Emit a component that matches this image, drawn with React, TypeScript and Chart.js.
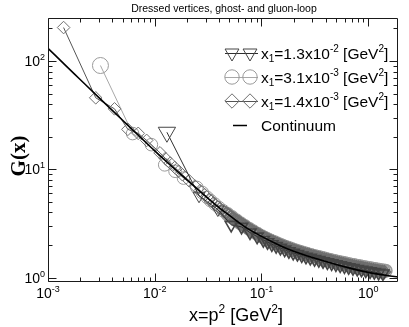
import React, { useEffect, useRef } from 'react';
import { Chart, registerables } from 'chart.js';
Chart.register(...registerables);

// ---------- data ----------
const continuumX = [0.001, 0.0015, 0.002, 0.003, 0.005, 0.007, 0.01, 0.015, 0.02, 0.03, 0.04, 0.05, 0.07, 0.1, 0.15, 0.2, 0.3, 0.5, 0.7, 1.0, 1.5, 1.9];
const continuumG = [131, 89, 67.6, 45.9, 28.4, 20.7, 14.8, 10.3, 8.0, 5.62, 4.43, 3.75, 2.94, 2.4, 1.97, 1.75, 1.53, 1.32, 1.21, 1.117, 1.045, 1.014];

// x1 = 1.3e-2 GeV^2 (triangles)
const triX = [0.013, 0.026, 0.039, 0.052, 0.065, 0.078, 0.091, 0.104, 0.114, 0.125, 0.1371, 0.1503, 0.1648, 0.1807, 0.1982, 0.2173, 0.2382, 0.2612, 0.2864, 0.3141, 0.3443, 0.3776, 0.414, 0.4539, 0.4977, 0.5458, 0.5984, 0.6561, 0.7194, 0.7889, 0.865, 0.9484, 1.04, 1.14, 1.25, 1.371];
const triG = [22, 5.7, 4.25, 3.07, 2.94, 2.61, 2.39, 2.22, 2.12, 2.03, 1.95, 1.88, 1.81, 1.75, 1.69, 1.65, 1.6, 1.557, 1.519, 1.482, 1.448, 1.415, 1.383, 1.353, 1.324, 1.297, 1.271, 1.246, 1.224, 1.201, 1.181, 1.162, 1.143, 1.124, 1.105, 1.091];

// x1 = 3.1e-3 GeV^2 (circles)
const cirX = [0.0031, 0.0062, 0.0093, 0.0124, 0.0155, 0.0186, 0.0248, 0.0279, 0.031, 0.03334, 0.03656, 0.04009, 0.04395, 0.04819, 0.05284, 0.05794, 0.06353, 0.06966, 0.07638, 0.08375, 0.09183, 0.1007, 0.1054, 0.1104, 0.1156, 0.1211, 0.1268, 0.1327, 0.139, 0.1455, 0.1524, 0.1596, 0.1671, 0.175, 0.1832, 0.1919, 0.2009, 0.2104, 0.2203, 0.2307, 0.2415, 0.2529, 0.2649, 0.2773, 0.2904, 0.3041, 0.3184, 0.3334, 0.3491, 0.3656, 0.3828, 0.4009, 0.4198, 0.4395, 0.4603, 0.4819, 0.5047, 0.5284, 0.5534, 0.5794, 0.6067, 0.6353, 0.6653, 0.6966, 0.7295, 0.7638, 0.7998, 0.8375, 0.877, 0.9183, 0.9616, 1.007, 1.054, 1.104, 1.156, 1.211, 1.268, 1.327, 1.39, 1.455];
const cirG = [91, 21.4, 16.9, 11.0, 9.6, 8.3, 6.8, 6.1, 5.5, 5.14, 4.77, 4.42, 4.13, 3.85, 3.61, 3.38, 3.17, 2.99, 2.82, 2.67, 2.53, 2.4, 2.34, 2.29, 2.24, 2.19, 2.15, 2.11, 2.07, 2.03, 1.99, 1.95, 1.92, 1.89, 1.857, 1.83, 1.796, 1.77, 1.746, 1.72, 1.697, 1.67, 1.652, 1.63, 1.612, 1.59, 1.573, 1.555, 1.538, 1.52, 1.502, 1.485, 1.469, 1.453, 1.437, 1.422, 1.406, 1.392, 1.378, 1.364, 1.35, 1.337, 1.325, 1.313, 1.301, 1.289, 1.277, 1.267, 1.256, 1.246, 1.236, 1.226, 1.216, 1.206, 1.196, 1.186, 1.177, 1.169, 1.161, 1.154];

// x1 = 1.4e-3 GeV^2 (diamonds)
const diaX = [0.0014, 0.0028, 0.0042, 0.0056, 0.007, 0.0084, 0.0112, 0.0126, 0.014, 0.0154, 0.0168, 0.0182, 0.021, 0.0238, 0.0266, 0.0294, 0.03236, 0.03388, 0.03548, 0.03715, 0.0389, 0.04074, 0.04266, 0.04467, 0.04677, 0.04898, 0.05129, 0.0537, 0.05623, 0.05888, 0.06166, 0.06457, 0.06761, 0.07079, 0.07413, 0.07762, 0.08128, 0.08511, 0.08913, 0.09333, 0.09772, 0.1023, 0.1072, 0.1122, 0.1175, 0.123, 0.1288, 0.1349, 0.1413, 0.1479, 0.1549, 0.1622, 0.1698, 0.1778, 0.1862, 0.195, 0.2042, 0.2138, 0.2239, 0.2344, 0.2455, 0.257, 0.2692, 0.2818, 0.2951, 0.309, 0.3236, 0.3388, 0.3548, 0.3715, 0.389, 0.4074, 0.4266, 0.4467, 0.4677, 0.4898, 0.5129, 0.537, 0.5623, 0.5888, 0.6166, 0.6457, 0.6761, 0.7079, 0.7413, 0.7762, 0.8128, 0.8511, 0.8913, 0.9333, 0.9772, 1.023, 1.072, 1.122, 1.175, 1.23, 1.288, 1.349, 1.413];
const diaG = [204, 45.8, 36.2, 23.4, 21.5, 18.5, 14.2, 12.6, 11.4, 10.4, 9.6, 8.9, 7.85, 7.0, 6.35, 5.82, 5.27, 5.08, 4.89, 4.71, 4.53, 4.37, 4.22, 4.08, 3.94, 3.81, 3.68, 3.56, 3.45, 3.34, 3.24, 3.14, 3.05, 2.96, 2.87, 2.79, 2.71, 2.64, 2.57, 2.5, 2.44, 2.38, 2.32, 2.27, 2.22, 2.17, 2.13, 2.08, 2.04, 2.0, 1.96, 1.93, 1.9, 1.86, 1.83, 1.8, 1.77, 1.746, 1.72, 1.695, 1.67, 1.647, 1.63, 1.606, 1.58, 1.564, 1.545, 1.527, 1.51, 1.49, 1.47, 1.455, 1.44, 1.422, 1.405, 1.389, 1.374, 1.36, 1.345, 1.331, 1.317, 1.303, 1.291, 1.278, 1.266, 1.254, 1.242, 1.231, 1.221, 1.21, 1.199, 1.189, 1.179, 1.169, 1.16, 1.15, 1.142, 1.134, 1.127];

const xTickExponents = ['-3', '-2', '-1', '0'];
const yTickExponents = ['0', '1', '2'];
const legendLabels = [
  { pre: '=1.3x10', exp: '-2' },
  { pre: '=3.1x10', exp: '-3' },
  { pre: '=1.4x10', exp: '-3' },
];
const titleText = 'Dressed vertices, ghost- and gluon-loop';

const X_MIN = 0.001, X_MAX = 1.9, Y_MIN = 0.91, Y_MAX = 250;

const SANS = '"Liberation Sans", Arial, Helvetica, sans-serif';
const SERIF = '"Liberation Serif", "Times New Roman", serif';

const TRI_COLOR = '#454545';
const TRI_LINE = '#2e2e2e';
const CIR_COLOR = '#9a9a9a';
const CIR_LINE = '#a8a8a8';
const DIA_COLOR = '#6e6e6e';
const DIA_LINE = '#555555';

// markers crowd together into a solid band where x is large
const crowdedStroke = (c: any) => (c.raw && c.raw.x > 0.045 ? 1.6 : 1);

type Seg = { t: string; k?: 'sup' | 'sub' };

function drawRich(ctx: CanvasRenderingContext2D, segs: Seg[], x: number, y: number, size: number, align: 'left' | 'center' | 'right', font = SANS) {
  const small = Math.round(size * 0.66);
  const fontFor = (s: Seg) => `${s.k ? small : size}px ${font}`;
  let w = 0;
  for (const s of segs) { ctx.font = fontFor(s); w += ctx.measureText(s.t).width; }
  let cx = align === 'left' ? x : align === 'center' ? x - w / 2 : x - w;
  ctx.textAlign = 'left';
  ctx.textBaseline = 'alphabetic';
  for (const s of segs) {
    ctx.font = fontFor(s);
    const dy = s.k === 'sup' ? -size * 0.42 : s.k === 'sub' ? size * 0.22 : 0;
    ctx.fillText(s.t, cx, y + dy);
    cx += ctx.measureText(s.t).width;
  }
}

function drawPointShape(ctx: CanvasRenderingContext2D, st: string, x: number, y: number, r: number, rotDeg: number) {
  ctx.beginPath();
  if (st === 'circle') {
    ctx.arc(x, y, r, 0, Math.PI * 2);
  } else if (st === 'triangle') {
    let rad = (rotDeg * Math.PI) / 180;
    ctx.moveTo(x + Math.sin(rad) * r, y - Math.cos(rad) * r);
    rad += (2 * Math.PI) / 3;
    ctx.lineTo(x + Math.sin(rad) * r, y - Math.cos(rad) * r);
    rad += (2 * Math.PI) / 3;
    ctx.lineTo(x + Math.sin(rad) * r, y - Math.cos(rad) * r);
    ctx.closePath();
  } else {
    ctx.moveTo(x - r, y); ctx.lineTo(x, y - r); ctx.lineTo(x + r, y); ctx.lineTo(x, y + r); ctx.closePath();
  }
  ctx.stroke();
}

const decorPlugin = {
  id: 'decor',
  afterDatasetsDraw(chart: any) {
    const ctx: CanvasRenderingContext2D = chart.ctx;
    const { left, right, top, bottom } = chart.chartArea;
    const xs = chart.scales.x, ys = chart.scales.y;
    ctx.save();
    ctx.strokeStyle = '#1a1a1a';
    ctx.fillStyle = '#000';
    ctx.lineWidth = 1;
    const L = Math.round(left) + 0.5, R = Math.round(right) - 0.5, T = Math.round(top) + 0.5, B = Math.round(bottom) - 0.5;
    ctx.beginPath();
    ctx.rect(L, T, R - L, B - T);
    ctx.stroke();
    // ticks (inward on all four sides)
    ctx.beginPath();
    for (let e = -3; e <= 0; e++) {
      for (let m = 1; m <= 9; m++) {
        const v = m * Math.pow(10, e);
        if (v < X_MIN || v > X_MAX) continue;
        const px = Math.round(xs.getPixelForValue(v)) + 0.5;
        const len = m === 1 ? 8 : 4;
        ctx.moveTo(px, B); ctx.lineTo(px, B - len);
        ctx.moveTo(px, T); ctx.lineTo(px, T + len);
      }
    }
    for (let e = -1; e <= 2; e++) {
      for (let m = 1; m <= 9; m++) {
        const v = m * Math.pow(10, e);
        if (v < Y_MIN || v > Y_MAX) continue;
        const py = Math.round(ys.getPixelForValue(v)) + 0.5;
        const len = m === 1 ? 8 : 4;
        ctx.moveTo(L, py); ctx.lineTo(L + len, py);
        ctx.moveTo(R, py); ctx.lineTo(R - len, py);
      }
    }
    ctx.stroke();
    // tick labels
    xTickExponents.forEach((ex) => {
      const px = xs.getPixelForValue(Math.pow(10, Number(ex)));
      drawRich(ctx, [{ t: '10' }, { t: ex, k: 'sup' }], px, 298, 14, 'center');
    });
    yTickExponents.forEach((ex) => {
      const py = ys.getPixelForValue(Math.pow(10, Number(ex)));
      drawRich(ctx, [{ t: '10' }, { t: ex, k: 'sup' }], left - 3, py + 5, 14, 'right');
    });
    // title
    ctx.font = `10.5px ${SANS}`;
    ctx.textAlign = 'center';
    ctx.textBaseline = 'alphabetic';
    ctx.fillText(titleText, (left + right) / 2 + 1, 12);
    // x axis title
    drawRich(ctx, [{ t: 'x=p' }, { t: '2', k: 'sup' }, { t: ' [GeV' }, { t: '2', k: 'sup' }, { t: ']' }], 236, 321, 18, 'center');
    // y axis title
    ctx.save();
    ctx.translate(25, 156);
    ctx.rotate(-Math.PI / 2);
    ctx.font = `bold 21px ${SERIF}`;
    ctx.textAlign = 'center';
    ctx.textBaseline = 'alphabetic';
    ctx.fillText('G(x)', 0, 0);
    ctx.restore();

    // legend
    const rows = [53, 77, 101, 125];
    const mx1 = 232, mx2 = 250, lineL = 225, lineR = 258, textX = 261;
    const styles = [
      { st: 'triangle', c: TRI_COLOR, l: TRI_LINE, r: 8, rot: 180 },
      { st: 'circle', c: CIR_COLOR, l: CIR_LINE, r: 7.2, rot: 0 },
      { st: 'rectRot', c: DIA_COLOR, l: DIA_LINE, r: 7.2, rot: 0 },
    ];
    styles.forEach((s, i) => {
      const y = rows[i];
      ctx.strokeStyle = s.l;
      ctx.lineWidth = 1;
      ctx.beginPath(); ctx.moveTo(lineL, y + 0.5); ctx.lineTo(lineR, y + 0.5); ctx.stroke();
      ctx.strokeStyle = s.c;
      drawPointShape(ctx, s.st, mx1, y, s.r, s.rot);
      drawPointShape(ctx, s.st, mx2, y, s.r, s.rot);
      ctx.fillStyle = '#000';
      drawRich(ctx, [{ t: 'x' }, { t: '1', k: 'sub' }, { t: legendLabels[i].pre }, { t: legendLabels[i].exp, k: 'sup' }, { t: ' [GeV' }, { t: '2', k: 'sup' }, { t: ']' }], textX, y + 5.5, 15.5, 'left');
    });
    ctx.strokeStyle = '#000';
    ctx.lineWidth = 1.5;
    ctx.beginPath(); ctx.moveTo(233, rows[3] + 0.5); ctx.lineTo(247, rows[3] + 0.5); ctx.stroke();
    ctx.fillStyle = '#000';
    ctx.font = `15.5px ${SANS}`;
    ctx.textAlign = 'left';
    ctx.fillText('Continuum', textX, rows[3] + 5.5);
    ctx.restore();
  },
};

const toPts = (xs: number[], ys: number[]) => xs.map((x, i) => ({ x, y: ys[i] }));

export default function App() {
  const ref = useRef<HTMLCanvasElement | null>(null);
  useEffect(() => {
    if (!ref.current) return;
    const chart = new Chart(ref.current, {
      type: 'line',
      data: {
        datasets: [
          {
            label: 'Continuum',
            data: toPts(continuumX, continuumG),
            borderColor: '#000',
            borderWidth: 1.6,
            pointRadius: 0,
            cubicInterpolationMode: 'monotone',
            fill: false,
          },
          {
            label: 'x1=1.3x10-2',
            data: toPts(triX, triG),
            borderColor: TRI_LINE,
            borderWidth: 1,
            pointStyle: 'triangle',
            rotation: 180,
            pointRadius: (c: any) => (c.dataIndex === 0 ? 10 : 7),
            pointBorderColor: TRI_COLOR,
            pointBackgroundColor: 'rgba(0,0,0,0)',
            pointBorderWidth: crowdedStroke,
            fill: false,
          },
          {
            label: 'x1=1.4x10-3',
            data: toPts(diaX, diaG),
            borderColor: DIA_LINE,
            borderWidth: 1,
            pointStyle: 'rectRot',
            pointRadius: 6.3,
            pointBorderColor: DIA_COLOR,
            pointBackgroundColor: 'rgba(0,0,0,0)',
            pointBorderWidth: crowdedStroke,
            fill: false,
          },
          {
            label: 'x1=3.1x10-3',
            data: toPts(cirX, cirG),
            borderColor: CIR_LINE,
            borderWidth: 1,
            pointStyle: 'circle',
            pointRadius: (c: any) => (c.dataIndex === 0 ? 8 : 6.3),
            pointBorderColor: CIR_COLOR,
            pointBackgroundColor: 'rgba(0,0,0,0)',
            pointBorderWidth: crowdedStroke,
            fill: false,
          },
        ],
      } as any,
      options: {
        animation: false,
        responsive: false,
        maintainAspectRatio: false,
        layout: { padding: { left: 48, top: 18, right: 5, bottom: 45 } },
        scales: {
          x: { type: 'logarithmic', min: X_MIN, max: X_MAX, display: false },
          y: { type: 'logarithmic', min: Y_MIN, max: Y_MAX, display: false },
        },
        plugins: { legend: { display: false }, title: { display: false }, tooltip: { enabled: false } },
        elements: { line: { tension: 0 } },
      } as any,
      plugins: [decorPlugin],
    });
    return () => chart.destroy();
  }, []);
  return (
    <div style={{ position: 'absolute', left: 0, top: 0, width: 409, height: 327, background: '#fff' }}>
      <canvas ref={ref} width={409} height={327} style={{ width: 409, height: 327, display: 'block' }} />
    </div>
  );
}
